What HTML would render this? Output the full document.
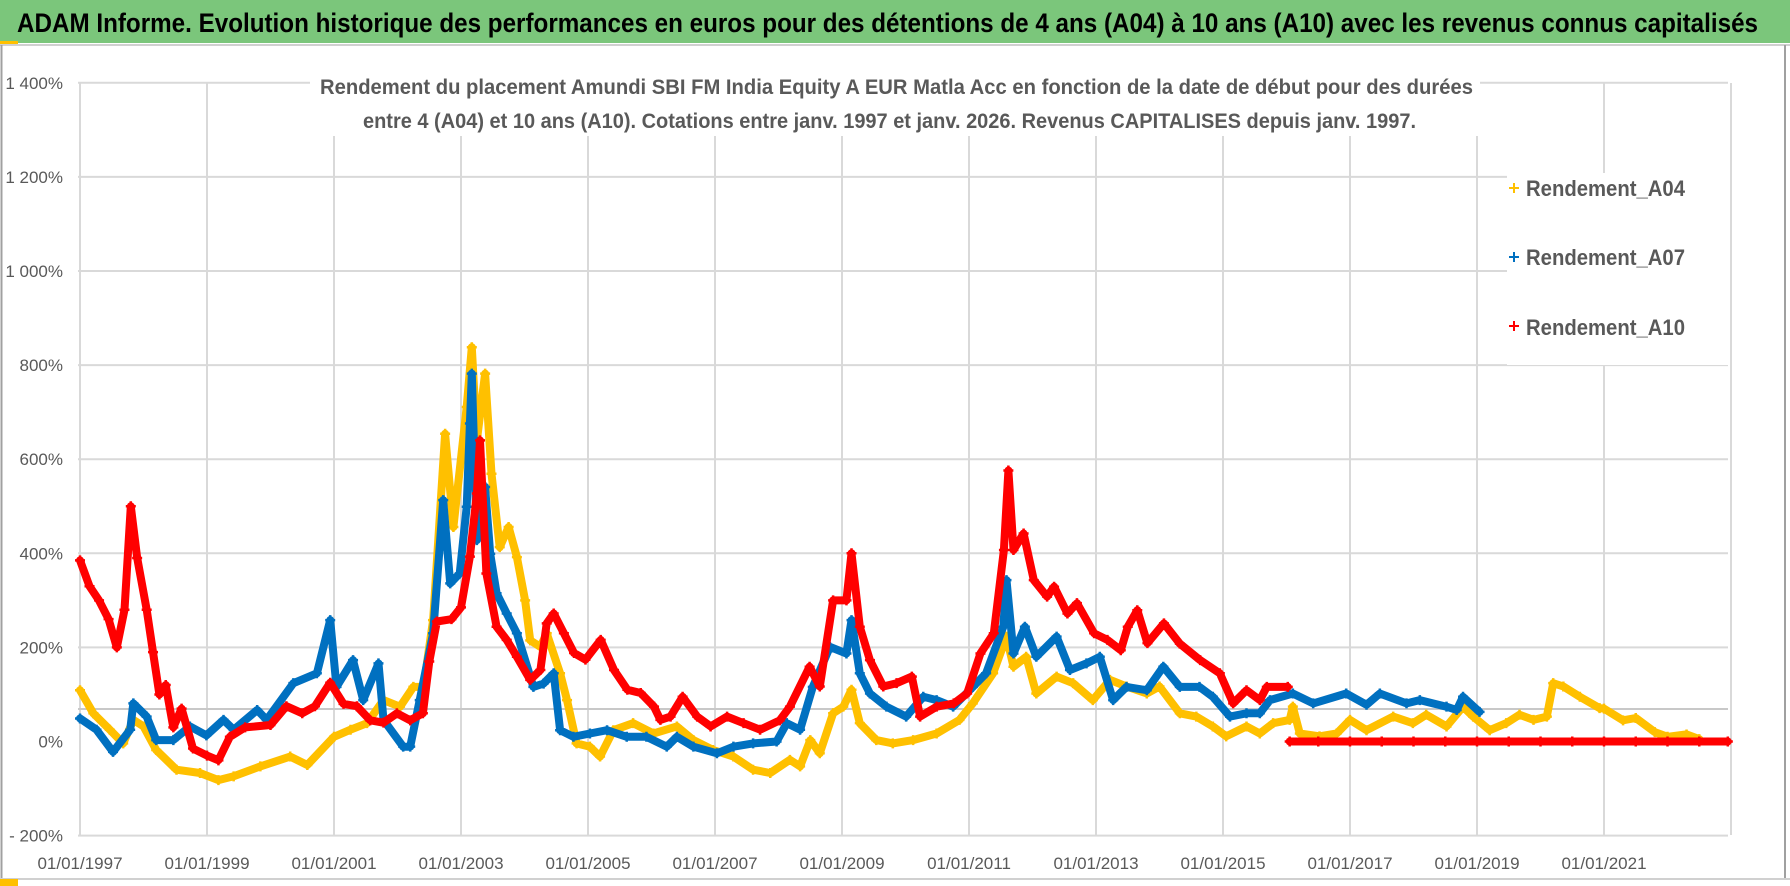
<!DOCTYPE html>
<html><head><meta charset="utf-8"><style>
html,body{margin:0;padding:0;background:#fff;}
svg{display:block;font-family:"Liberation Sans",sans-serif;}
</style></head><body>
<svg id="chart" width="1790" height="886" viewBox="0 0 1790 886" xmlns="http://www.w3.org/2000/svg">
<rect x="0" y="0" width="1790" height="886" fill="#fff"/>
<rect x="0" y="0" width="1790" height="43" fill="#7BC67B"/>
<rect x="0" y="41" width="18" height="4" fill="#FFC000"/>
<line x1="0" y1="45" x2="1790" y2="45" stroke="#d0d0d0" stroke-width="2"/>
<text x="17" y="32" font-size="27" font-weight="bold" fill="#000" textLength="1741" lengthAdjust="spacingAndGlyphs">ADAM Informe. Evolution historique des performances en euros pour des détentions de 4 ans (A04) à 10 ans (A10) avec les revenus connus capitalisés</text>
<line x1="1.5" y1="45" x2="1.5" y2="880" stroke="#a0a0a0" stroke-width="2"/>
<line x1="1785" y1="45" x2="1785" y2="880" stroke="#a0a0a0" stroke-width="2"/>
<line x1="0" y1="879" x2="1790" y2="879" stroke="#d0d0d0" stroke-width="2"/>
<rect x="0" y="879" width="18" height="7" fill="#FFC000"/>
<g id="grid"></g>
<g id="axes"></g>
<g id="series"></g>
<rect x="310" y="60" width="1170" height="76" fill="#fff"/>
<text x="320" y="94" font-size="21" font-weight="bold" fill="#595959" textLength="1153" lengthAdjust="spacingAndGlyphs">Rendement du placement Amundi SBI FM India Equity A EUR Matla Acc en fonction de la date de début pour des durées</text>
<text x="363" y="128" font-size="21" font-weight="bold" fill="#595959" textLength="1053" lengthAdjust="spacingAndGlyphs">entre 4 (A04) et 10 ans (A10). Cotations entre janv. 1997 et janv. 2026. Revenus CAPITALISES depuis janv. 1997.</text>
<rect x="1507" y="173" width="221" height="192" fill="#fff"/>
<g><path d="M1509 188h10M1514 183v10" stroke="#FFC000" stroke-width="2"/><text x="1526" y="196" font-size="22" font-weight="bold" fill="#595959" textLength="159" lengthAdjust="spacingAndGlyphs">Rendement_A04</text></g>
<g><path d="M1509 257h10M1514 252v10" stroke="#0070C0" stroke-width="2"/><text x="1526" y="265" font-size="22" font-weight="bold" fill="#595959" textLength="159" lengthAdjust="spacingAndGlyphs">Rendement_A07</text></g>
<g><path d="M1509 326h10M1514 321v10" stroke="#FF0000" stroke-width="2"/><text x="1526" y="335" font-size="22" font-weight="bold" fill="#595959" textLength="159" lengthAdjust="spacingAndGlyphs">Rendement_A10</text></g>
</svg>
<script>
const yTicks = [1400,1200,1000,800,600,400,200,0,-200];
const yTickLabels = ["1 400%","1 200%","1 000%","800%","600%","400%","200%","0%","- 200%"];
const xTickYears = [1997,1999,2001,2003,2005,2007,2009,2011,2013,2015,2017,2019,2021];
const xTickLabels = ["01/01/1997","01/01/1999","01/01/2001","01/01/2003","01/01/2005","01/01/2007","01/01/2009","01/01/2011","01/01/2013","01/01/2015","01/01/2017","01/01/2019","01/01/2021"];

const a04Dates = [1997.0,1997.21,1997.47,1997.68,1997.84,1998.0,1998.2,1998.52,1998.89,1999.18,1999.42,1999.84,2000.31,2000.58,2001.0,2001.26,2001.52,2001.78,2002.04,2002.25,2002.41,2002.56,2002.75,2002.88,2003.09,2003.17,2003.25,2003.38,2003.48,2003.61,2003.75,2003.88,2004.01,2004.09,2004.25,2004.35,2004.56,2004.67,2004.82,2005.03,2005.19,2005.4,2005.71,2006.03,2006.4,2006.66,2006.97,2007.29,2007.6,2007.87,2008.18,2008.34,2008.5,2008.65,2008.86,2009.02,2009.15,2009.28,2009.54,2009.8,2010.12,2010.49,2010.85,2011.06,2011.38,2011.59,2011.7,2011.9,2012.06,2012.38,2012.64,2012.95,2013.22,2013.48,2013.8,2014.0,2014.32,2014.58,2014.84,2015.05,2015.37,2015.58,2015.79,2016.05,2016.1,2016.21,2016.52,2016.79,2017.0,2017.26,2017.68,2017.99,2018.2,2018.52,2018.78,2018.94,2019.2,2019.46,2019.67,2019.89,2020.1,2020.2,2020.36,2020.62,2020.93,2021.0,2021.3,2021.5,2021.8,2022.0,2022.3,2022.5];
const a04Values = [109,60,25,-4,46,32,-18,-60,-67,-82,-74,-53,-32,-50,10,25,39,88,74,116,116,258,654,456,711,838,640,782,569,413,456,392,300,215,201,230,145,88,-4,-11,-32,24,39,17,32,3,-18,-32,-60,-67,-39,-53,3,-25,60,74,110,39,3,-4,3,17,46,81,145,223,159,180,102,138,124,88,131,117,102,117,60,53,32,11,32,17,39,46,74,17,11,17,46,24,53,39,57,32,74,53,24,39,57,46,53,124,117,95,71,70,45,50,20,10,15,5];

const a07Dates = [1997.0,1997.26,1997.52,1997.79,1997.84,1998.05,1998.2,1998.47,1998.73,1998.99,1999.26,1999.42,1999.79,1999.94,2000.36,2000.73,2000.94,2001.04,2001.3,2001.46,2001.7,2001.78,2002.09,2002.2,2002.35,2002.56,2002.72,2002.83,2002.98,2003.09,2003.14,2003.17,2003.25,2003.38,2003.46,2003.56,2003.72,2003.88,2004.14,2004.3,2004.46,2004.56,2004.77,2005.03,2005.3,2005.61,2005.92,2006.24,2006.4,2006.66,2007.03,2007.29,2007.6,2007.97,2008.13,2008.34,2008.54,2008.81,2009.07,2009.15,2009.28,2009.44,2009.7,2010.01,2010.28,2010.49,2010.75,2011.06,2011.27,2011.54,2011.59,2011.7,2011.88,2012.06,2012.38,2012.59,2012.85,2013.06,2013.27,2013.48,2013.8,2014.06,2014.32,2014.63,2014.84,2015.11,2015.37,2015.58,2015.74,2016.1,2016.42,2016.94,2017.26,2017.47,2017.89,2018.1,2018.52,2018.68,2018.78,2019.04];
const a07Values = [49,25,-22,25,81,53,3,3,32,13,46,25,67,46,124,145,258,116,173,88,166,46,-11,-11,88,230,513,336,357,499,676,782,428,541,399,315,272,230,116,123,145,24,10,17,24,10,10,-11,10,-11,-25,-11,-4,0,39,25,116,201,187,258,145,102,74,53,95,88,74,116,145,244,343,187,244,180,223,152,166,180,88,116,109,159,116,116,95,53,60,60,88,102,81,102,78,102,81,88,74,67,95,63];

const a10Dates = [1997.0,1997.15,1997.3,1997.45,1997.58,1997.7,1997.8,1997.9,1998.05,1998.15,1998.25,1998.35,1998.47,1998.6,1998.78,1999.0,1999.18,1999.36,1999.6,2000.0,2000.25,2000.5,2000.7,2000.94,2001.15,2001.36,2001.57,2001.78,2001.99,2002.2,2002.4,2002.5,2002.62,2002.85,2003.0,2003.14,2003.25,2003.3,2003.4,2003.56,2003.72,2003.88,2004.09,2004.25,2004.35,2004.46,2004.62,2004.78,2004.96,2005.2,2005.41,2005.62,2005.83,2006.04,2006.14,2006.3,2006.49,2006.72,2006.93,2007.19,2007.45,2007.71,2008.02,2008.18,2008.49,2008.65,2008.86,2009.07,2009.15,2009.28,2009.44,2009.65,2009.86,2010.1,2010.23,2010.49,2010.76,2010.97,2011.18,2011.39,2011.55,2011.62,2011.7,2011.86,2012.02,2012.23,2012.34,2012.55,2012.7,2012.97,2013.18,2013.39,2013.5,2013.65,2013.81,2014.07,2014.32,2014.64,2014.95,2015.16,2015.37,2015.58,2015.69,2016.02,2016.05,2016.5,2017.0,2017.5,2018.0,2018.5,2019.0,2019.5,2020.0,2020.5,2021.0,2021.5,2022.0,2022.5,2022.95];
const a10Values = [385,330,300,260,200,280,500,390,280,190,100,120,30,70,-15,-30,-40,10,30,35,75,60,75,125,80,75,45,40,60,45,60,170,255,260,285,393,527,640,357,244,216,180,131,152,251,272,230,188,174,216,152,110,103,74,46,53,95,53,32,53,39,25,45,74,159,117,300,300,400,244,173,117,124,138,53,74,81,102,187,230,407,576,407,442,343,308,329,272,294,230,216,194,244,279,209,251,208,173,145,81,109,88,116,116,0,0,0,0,0,0,0,0,0,0,0,0,0,0,0];

const NS = "http://www.w3.org/2000/svg";
const X0 = 80, PX_PER_YEAR = 63.5, Y0 = 741.5, PX_PER_PCT = 0.4705;
function xScale(yr){ return X0 + (yr - 1997) * PX_PER_YEAR; }
function yScale(v){ return Y0 - v * PX_PER_PCT; }
function mk(tag, attrs, parent){ const e = document.createElementNS(NS, tag); for (const k in attrs) e.setAttribute(k, attrs[k]); parent.appendChild(e); return e; }

const grid = document.getElementById('grid');
const axes = document.getElementById('axes');
for (let yr = 1997; yr <= 2023; yr += 2) {
  const gx = xScale(yr);
  const l = mk('line', {x1: gx, y1: 83, x2: gx, y2: 835, stroke: '#d9d9d9', 'stroke-width': 2}, grid);
  
  
}
yTicks.forEach(function(v){
  if (v === 0) return;
  const gy = yScale(v);
  const l = mk('line', {x1: 78, y1: gy, x2: 1728, y2: gy, stroke: '#d9d9d9', 'stroke-width': 2}, grid);
  
  
});
const hAxis = mk('line', {x1: 78, y1: yScale(69), x2: 1728, y2: yScale(69), stroke: '#c8c8c8', 'stroke-width': 2}, grid);



yTicks.forEach(function(v, i){
  const t = mk('text', {x: 63, y: yScale(v) + 6, 'text-anchor': 'end', 'font-size': 17, fill: '#595959'}, axes);
  t.textContent = yTickLabels[i];
  
  
});
xTickYears.forEach(function(yr, i){
  const t = mk('text', {x: xScale(yr), y: 869, 'text-anchor': 'middle', 'font-size': 17, fill: '#595959'}, axes);
  t.textContent = xTickLabels[i];
  
  
});

const seriesG = document.getElementById('series');
function drawSeries(dates, values, color, name){
  const g = mk('g', {}, seriesG);
  
  
  // split into segments: break where the series drops from a non-zero value to an exact 0 run
  let segs = [[]];
  dates.forEach(function(d, i){
    if (i > 0 && values[i] === 0 && values[i-1] !== 0 && Math.abs(values[i-1]) > 50) segs.push([]);
    segs[segs.length-1].push(xScale(d).toFixed(1) + ',' + yScale(values[i]).toFixed(1));
  });
  segs.forEach(function(s){
    mk('polyline', {points: s.join(' '), fill: 'none', stroke: color, 'stroke-width': 8, 'stroke-linejoin': 'round', 'stroke-linecap': 'round'}, g);
  });
  let d = '';
  dates.forEach(function(dt, i){
    const px = xScale(dt), py = yScale(values[i]);
    d += 'M' + (px - 5) + ' ' + py + 'h10M' + px + ' ' + (py - 5) + 'v10';
  });
  mk('path', {d: d, stroke: color, 'stroke-width': 2.5, fill: 'none'}, g);
}
drawSeries(a04Dates, a04Values, '#FFC000', 'series-rendement-a04');
drawSeries(a07Dates, a07Values, '#0070C0', 'series-rendement-a07');
drawSeries(a10Dates, a10Values, '#FF0000', 'series-rendement-a10');
</script>
</body></html>
